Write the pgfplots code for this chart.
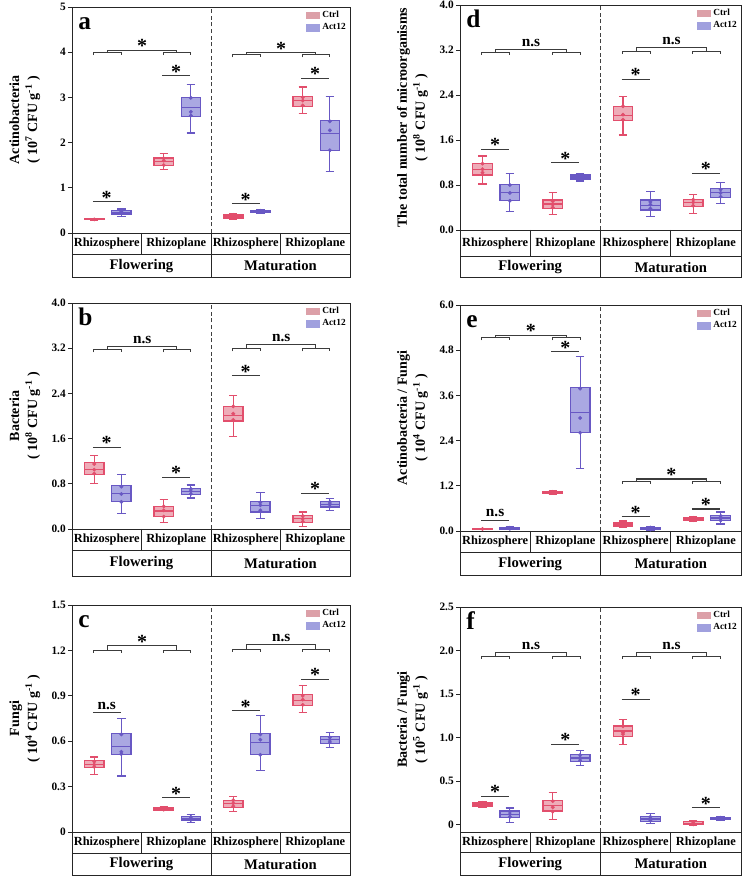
\documentclass[border=0pt]{standalone}
\usepackage{fontspec}
\setmainfont{Liberation Serif}
\usepackage{pgfplots}
\pgfplotsset{compat=1.18}
\usepgfplotslibrary{statistics}

\definecolor{CtrlE}{RGB}{226,78,108}
\definecolor{CtrlF}{RGB}{238,172,184}
\definecolor{ActE}{RGB}{104,88,196}
\definecolor{ActF}{RGB}{170,168,226}
\definecolor{CtrlL}{RGB}{220,160,168}
\definecolor{ActL}{RGB}{160,160,222}
\definecolor{brkc}{RGB}{60,60,60}

\tikzset{
  brk/.style={line width=0.8pt, brkc},
  tl/.style={line width=0.7pt, black!85},
  cat/.style={font=\bfseries\fontsize{9.3}{10}\selectfont, inner sep=0pt},
  stage/.style={font=\bfseries\fontsize{11}{12}\selectfont, inner sep=0pt},
  star/.style={anchor=south, inner sep=0pt, font=\bfseries\fontsize{15}{15}\selectfont, yshift=-2pt},
  ns/.style={anchor=base, inner sep=0pt, font=\bfseries\fontsize{11.5}{12}\selectfont, yshift=2.5pt},
}

\pgfplotsset{
  panel/.style={scale only axis, anchor=south west, xmin=0, xmax=4, xtick=\empty, clip=false,
    axis line style={line width=0.7pt, black!85},
    ytick pos=left, tick align=outside, major tick length=3pt,
    ytick style={line width=0.7pt, black!85},
    yticklabel style={font=\bfseries\fontsize{8.5}{10}\selectfont, inner sep=1.5pt},
    ylabel style={at={(axis description cs:-0.097,0.5)}, anchor=south, align=center,
      font=\bfseries\fontsize{10.5}{13.5}\selectfont},
    legend style={at={(0.995,0.995)}, anchor=north east, draw=none, fill=none,
      font=\bfseries\fontsize{7}{8}\selectfont, inner sep=0pt, row sep=-1pt},
    legend cell align=left,
  },
  ctrlbox/.style={draw=CtrlE, fill=CtrlF, line width=0.9pt, solid,
    boxplot/draw direction=y, boxplot/box extend=0.28, boxplot/whisker extend=0.12},
  actbox/.style={draw=ActE, fill=ActF, line width=0.9pt, solid,
    boxplot/draw direction=y, boxplot/box extend=0.28, boxplot/whisker extend=0.12},
}

\newcommand{\bxc}[6]{\addplot[ctrlbox, boxplot prepared={draw direction=y, draw position=#1, lower whisker=#2, lower quartile=#3, median=#4, upper quartile=#5, upper whisker=#6}] coordinates {};}
\newcommand{\bxa}[6]{\addplot[actbox, boxplot prepared={draw direction=y, draw position=#1, lower whisker=#2, lower quartile=#3, median=#4, upper quartile=#5, upper whisker=#6}] coordinates {};}
\newcommand{\ptc}[1]{\addplot[only marks, mark=*, mark size=1.25pt, CtrlE] coordinates {#1};}
\newcommand{\pta}[1]{\addplot[only marks, mark=*, mark size=1.25pt, ActE] coordinates {#1};}

\newcommand{\legendimgs}{%
  \addlegendimage{legend image code/.code={\fill[CtrlL] (0pt,-2.5pt) rectangle (10pt,2.5pt);}}
  \addlegendentry{Ctrl}
  \addlegendimage{legend image code/.code={\fill[ActL] (0pt,-2.5pt) rectangle (10pt,2.5pt);}}
  \addlegendentry{Act12}
}
\newcommand{\dashmid}{\draw[dashed, black!75, line width=0.7pt, dash pattern=on 3pt off 2pt] (rel axis cs:0.5,0) -- (rel axis cs:0.5,1);}
\newcommand{\letter}[1]{\node[anchor=base west, inner sep=0pt, font=\bfseries\fontsize{19}{19}\selectfont] at (rel axis cs:0.022,0.9) {#1};}

\newcommand{\tbl}[4]{%
  \draw[tl] (rel axis cs:0,0) -- (rel axis cs:0,#2) -- (rel axis cs:1,#2) -- (rel axis cs:1,0);
  \draw[tl] (rel axis cs:0,#1) -- (rel axis cs:1,#1);
  \draw[tl] (rel axis cs:0.25,0) -- (rel axis cs:0.25,#1);
  \draw[tl] (rel axis cs:0.75,0) -- (rel axis cs:0.75,#1);
  \draw[tl] (rel axis cs:0.5,0) -- (rel axis cs:0.5,#2);
  \node[cat] at (rel axis cs:0.125,#3) {Rhizosphere};
  \node[cat] at (rel axis cs:0.375,#3) {Rhizoplane};
  \node[cat] at (rel axis cs:0.625,#3) {Rhizosphere};
  \node[cat] at (rel axis cs:0.875,#3) {Rhizoplane};
  \node[stage] at (rel axis cs:0.25,#4) {Flowering};
  \node[stage] at (rel axis cs:0.75,#4) {Maturation};
}
% pair bar: x1, x2, xc, y, style, text
\newcommand{\pb}[6]{%
  \draw[brk] (axis cs:#1,#4) -- (axis cs:#2,#4);
  \node[#5] at (axis cs:#3,#4) {#6};
}
% top brackets: ys, yr, ydrop, style, text
\newcommand{\tbF}[5]{%
  \draw[brk] (axis cs:0.31,#3) -- (axis cs:0.31,#1) -- (axis cs:0.71,#1) -- (axis cs:0.71,#3);
  \draw[brk] (axis cs:1.31,#3) -- (axis cs:1.31,#1) -- (axis cs:1.71,#1) -- (axis cs:1.71,#3);
  \draw[brk] (axis cs:0.51,#1) -- (axis cs:0.51,#2) -- (axis cs:1.51,#2) -- (axis cs:1.51,#1);
  \node[#4] at (axis cs:1.01,#2) {#5};
}
\newcommand{\tbM}[5]{%
  \draw[brk] (axis cs:2.31,#3) -- (axis cs:2.31,#1) -- (axis cs:2.71,#1) -- (axis cs:2.71,#3);
  \draw[brk] (axis cs:3.31,#3) -- (axis cs:3.31,#1) -- (axis cs:3.71,#1) -- (axis cs:3.71,#3);
  \draw[brk] (axis cs:2.51,#1) -- (axis cs:2.51,#2) -- (axis cs:3.51,#2) -- (axis cs:3.51,#1);
  \node[#4] at (axis cs:3.01,#2) {#5};
}

\begin{document}
\begin{tikzpicture}
\path[use as bounding box] (0,0) rectangle (558pt,657.75pt);

% ---------------- a ----------------
\begin{axis}[panel, at={(54pt,483pt)}, width=208.5pt, height=169.5pt,
  ymin=0, ymax=5, ytick={0,1,2,3,4,5}, yticklabels={0,1,2,3,4,5},
  ylabel={Actinobacteria\\( 10\textsuperscript{7} CFU g\textsuperscript{-1} )}]
\legendimgs
\dashmid
\bxc{0.32}{0.285}{0.295}{0.305}{0.315}{0.32}
\bxa{0.71}{0.37}{0.42}{0.46}{0.50}{0.53}
\bxc{1.32}{1.40}{1.50}{1.58}{1.66}{1.76}
\bxa{1.71}{2.21}{2.58}{2.77}{3.00}{3.29}
\bxc{2.32}{0.31}{0.33}{0.37}{0.40}{0.42}
\bxa{2.71}{0.44}{0.46}{0.48}{0.50}{0.52}
\bxc{3.32}{2.65}{2.80}{2.94}{3.02}{3.23}
\bxa{3.71}{1.36}{1.83}{2.20}{2.49}{3.02}
\ptc{(0.32,0.30) (1.32,1.50) (1.32,1.60) (1.32,1.65) (2.32,0.34) (2.32,0.37) (2.32,0.40) (3.32,2.82) (3.32,2.93) (3.32,3.00)}
\pta{(0.71,0.44) (0.71,0.47) (0.71,0.49) (1.71,2.60) (1.71,2.68) (1.71,2.99) (2.71,0.47) (2.71,0.48) (2.71,0.49) (3.71,1.83) (3.71,2.27) (3.71,2.47)}
\pb{0.30}{0.70}{0.50}{0.69}{star}{*}
\pb{1.30}{1.70}{1.50}{3.48}{star}{*}
\pb{2.30}{2.70}{2.50}{0.65}{star}{*}
\pb{3.30}{3.70}{3.50}{3.42}{star}{*}
\tbF{3.99}{4.04}{3.935}{star}{*}
\tbM{3.94}{3.99}{3.885}{star}{*}
\letter{a}
\tbl{-0.093}{-0.195}{-0.0465}{-0.144}
\end{axis}

% ---------------- b ----------------
\begin{axis}[panel, at={(54pt,261pt)}, width=208.5pt, height=169.5pt,
  ymin=0, ymax=4, ytick={0,0.8,1.6,2.4,3.2,4.0}, yticklabels={0.0,0.8,1.6,2.4,3.2,4.0},
  ylabel={Bacteria\\( 10\textsuperscript{8} CFU g\textsuperscript{-1} )}]
\legendimgs
\dashmid
\bxc{0.32}{0.80}{0.96}{1.05}{1.17}{1.30}
\bxa{0.71}{0.27}{0.48}{0.63}{0.77}{0.97}
\bxc{1.32}{0.12}{0.22}{0.32}{0.40}{0.52}
\bxa{1.71}{0.55}{0.61}{0.67}{0.71}{0.78}
\bxc{2.32}{1.64}{1.91}{2.01}{2.17}{2.36}
\bxa{2.71}{0.18}{0.30}{0.41}{0.48}{0.64}
\bxc{3.32}{0.04}{0.12}{0.18}{0.24}{0.30}
\bxa{3.71}{0.33}{0.39}{0.44}{0.48}{0.54}
\ptc{(0.32,0.98) (0.32,1.05) (0.32,1.15) (1.32,0.22) (1.32,0.33) (1.32,0.40) (2.32,1.93) (2.32,2.04) (2.32,2.17) (3.32,0.13) (3.32,0.18) (3.32,0.23)}
\pta{(0.71,0.48) (0.71,0.62) (0.71,0.75) (1.71,0.62) (1.71,0.67) (1.71,0.71) (2.71,0.33) (2.71,0.42) (2.71,0.47) (3.71,0.40) (3.71,0.44) (3.71,0.48)}
\pb{0.30}{0.70}{0.50}{1.45}{star}{*}
\pb{1.30}{1.70}{1.50}{0.91}{star}{*}
\pb{2.30}{2.70}{2.50}{2.71}{star}{*}
\pb{3.30}{3.70}{3.50}{0.63}{star}{*}
\tbF{3.17}{3.23}{3.125}{ns}{n.s}
\tbM{3.19}{3.26}{3.145}{ns}{n.s}
\letter{b}
\tbl{-0.093}{-0.212}{-0.0465}{-0.1525}
\end{axis}

% ---------------- c ----------------
\begin{axis}[panel, at={(54pt,33.75pt)}, width=208.5pt, height=170.25pt,
  ymin=0, ymax=1.5, ytick={0,0.3,0.6,0.9,1.2,1.5}, yticklabels={0,0.3,0.6,0.9,1.2,1.5},
  ylabel={Fungi\\( 10\textsuperscript{4} CFU g\textsuperscript{-1} )}]
\legendimgs
\dashmid
\bxc{0.32}{0.38}{0.426}{0.448}{0.47}{0.496}
\bxa{0.71}{0.37}{0.51}{0.563}{0.65}{0.75}
\bxc{1.32}{0.14}{0.145}{0.152}{0.16}{0.17}
\bxa{1.71}{0.062}{0.075}{0.086}{0.10}{0.115}
\bxc{2.32}{0.137}{0.163}{0.188}{0.21}{0.236}
\bxa{2.71}{0.406}{0.51}{0.59}{0.65}{0.77}
\bxc{3.32}{0.788}{0.834}{0.871}{0.91}{0.966}
\bxa{3.71}{0.558}{0.585}{0.611}{0.633}{0.657}
\ptc{(0.32,0.43) (0.32,0.445) (0.32,0.465) (1.32,0.148) (1.32,0.155) (1.32,0.158) (2.32,0.17) (2.32,0.19) (2.32,0.21) (3.32,0.84) (3.32,0.875) (3.32,0.90)}
\pta{(0.71,0.515) (0.71,0.53) (0.71,0.645) (1.71,0.08) (1.71,0.09) (1.71,0.10) (2.71,0.51) (2.71,0.61) (2.71,0.645) (3.71,0.595) (3.71,0.61) (3.71,0.625)}
\pb{0.30}{0.70}{0.50}{0.79}{ns}{n.s}
\pb{1.30}{1.70}{1.50}{0.227}{star}{*}
\pb{2.30}{2.70}{2.50}{0.80}{star}{*}
\pb{3.30}{3.70}{3.50}{1.008}{star}{*}
\tbF{1.20}{1.23}{1.183}{star}{*}
\tbM{1.207}{1.238}{1.19}{ns}{n.s}
\letter{c}
\tbl{-0.093}{-0.19}{-0.0465}{-0.1415}
\end{axis}

% ---------------- d ----------------
\begin{axis}[panel, at={(345pt,485.25pt)}, width=210.75pt, height=168.75pt,
  ymin=0, ymax=4, ytick={0,0.8,1.6,2.4,3.2,4.0}, yticklabels={0.0,0.8,1.6,2.4,3.2,4.0},
  ylabel={The total number of microorganisms\\( 10\textsuperscript{8} CFU g\textsuperscript{-1} )}]
\legendimgs
\dashmid
\bxc{0.32}{0.818}{0.978}{1.079}{1.185}{1.316}
\bxa{0.71}{0.33}{0.52}{0.67}{0.81}{1.01}
\bxc{1.32}{0.279}{0.385}{0.462}{0.533}{0.664}
\bxa{1.71}{0.871}{0.907}{0.942}{0.978}{1.007}
\bxc{2.32}{1.69}{1.94}{2.03}{2.19}{2.37}
\bxa{2.71}{0.237}{0.356}{0.433}{0.533}{0.68}
\bxc{3.32}{0.296}{0.415}{0.486}{0.545}{0.634}
\bxa{3.71}{0.474}{0.58}{0.664}{0.74}{0.847}
\ptc{(0.32,1.02) (0.32,1.08) (0.32,1.18) (1.32,0.40) (1.32,0.45) (1.32,0.51) (2.32,1.96) (2.32,2.05) (2.32,2.20) (3.32,0.43) (3.32,0.49) (3.32,0.54)}
\pta{(0.71,0.52) (0.71,0.66) (0.71,0.80) (1.71,0.92) (1.71,0.94) (1.71,0.97) (2.71,0.38) (2.71,0.45) (2.71,0.50) (3.71,0.59) (3.71,0.66) (3.71,0.72)}
\pb{0.30}{0.70}{0.50}{1.434}{star}{*}
\pb{1.30}{1.70}{1.50}{1.197}{star}{*}
\pb{2.30}{2.70}{2.50}{2.68}{star}{*}
\pb{3.30}{3.70}{3.50}{1.007}{star}{*}
\tbF{3.16}{3.21}{3.115}{ns}{n.s}
\tbM{3.17}{3.24}{3.125}{ns}{n.s}
\letter{d}
\tbl{-0.116}{-0.213}{-0.058}{-0.1645}
\end{axis}

% ---------------- e ----------------
\begin{axis}[panel, at={(345pt,259.5pt)}, width=210.75pt, height=169.5pt,
  ymin=0, ymax=6, ytick={0,1.2,2.4,3.6,4.8,6.0}, yticklabels={0.0,1.2,2.4,3.6,4.8,6.0},
  ylabel={Actinobacteria / Fungi\\( 10\textsuperscript{4} CFU g\textsuperscript{-1} )}]
\legendimgs
\dashmid
\bxc{0.32}{0.035}{0.045}{0.053}{0.062}{0.07}
\bxa{0.71}{0.03}{0.045}{0.07}{0.09}{0.11}
\bxc{1.32}{0.97}{0.99}{1.03}{1.05}{1.07}
\bxa{1.71}{1.65}{2.61}{3.14}{3.80}{4.63}
\bxc{2.32}{0.10}{0.133}{0.186}{0.23}{0.265}
\bxa{2.71}{0.018}{0.035}{0.062}{0.097}{0.115}
\bxc{3.32}{0.257}{0.274}{0.319}{0.363}{0.38}
\bxa{3.71}{0.186}{0.274}{0.345}{0.416}{0.504}
\ptc{(0.32,0.053) (1.32,1.01) (1.32,1.03) (1.32,1.04) (2.32,0.14) (2.32,0.19) (2.32,0.22) (3.32,0.29) (3.32,0.32) (3.32,0.35)}
\pta{(0.71,0.06) (0.71,0.07) (0.71,0.085) (1.71,2.61) (1.71,3.00) (1.71,3.78) (2.71,0.04) (2.71,0.065) (2.71,0.09) (3.71,0.28) (3.71,0.33) (3.71,0.40)}
\pb{0.30}{0.70}{0.50}{0.29}{ns}{n.s}
\pb{1.30}{1.70}{1.50}{4.76}{star}{*}
\pb{2.30}{2.70}{2.50}{0.38}{star}{*}
\pb{3.30}{3.70}{3.50}{0.584}{star}{*}
\tbF{5.13}{5.20}{5.064}{star}{*}
\tbM{1.31}{1.38}{1.244}{star}{*}
\letter{e}
\tbl{-0.093}{-0.195}{-0.0465}{-0.144}
\end{axis}

% ---------------- f ----------------
\begin{axis}[panel, at={(345pt,33.75pt)}, width=210.75pt, height=168.75pt,
  ymin=-0.084, ymax=2.5, ytick={0,0.5,1.0,1.5,2.0,2.5}, yticklabels={0,0.5,1.0,1.5,2.0,2.5},
  ylabel={Bacteria / Fungi\\( 10\textsuperscript{5} CFU g\textsuperscript{-1} )}]
\legendimgs
\dashmid
\bxc{0.32}{0.203}{0.214}{0.237}{0.256}{0.268}
\bxa{0.71}{0.027}{0.08}{0.119}{0.157}{0.191}
\bxc{1.32}{0.061}{0.157}{0.218}{0.28}{0.368}
\bxa{1.71}{0.678}{0.727}{0.766}{0.808}{0.854}
\bxc{2.32}{0.923}{1.015}{1.076}{1.133}{1.21}
\bxa{2.71}{0.011}{0.038}{0.065}{0.092}{0.126}
\bxc{3.32}{-0.011}{0.0}{0.015}{0.034}{0.05}
\bxa{3.71}{0.054}{0.061}{0.073}{0.08}{0.088}
\ptc{(0.32,0.225) (0.32,0.24) (0.32,0.25) (1.32,0.15) (1.32,0.20) (1.32,0.27) (2.32,1.04) (2.32,1.06) (2.32,1.13) (3.32,0.005) (3.32,0.015) (3.32,0.03)}
\pta{(0.71,0.09) (0.71,0.12) (0.71,0.15) (1.71,0.74) (1.71,0.77) (1.71,0.80) (2.71,0.045) (2.71,0.07) (2.71,0.09) (3.71,0.065) (3.71,0.073) (3.71,0.08)}
\pb{0.30}{0.70}{0.50}{0.325}{star}{*}
\pb{1.30}{1.70}{1.50}{0.923}{star}{*}
\pb{2.30}{2.70}{2.50}{1.44}{star}{*}
\pb{3.30}{3.70}{3.50}{0.195}{star}{*}
\tbF{1.933}{1.975}{1.904}{ns}{n.s}
\tbM{1.93}{1.975}{1.901}{ns}{n.s}
\letter{f}
\tbl{-0.093}{-0.191}{-0.0465}{-0.142}
\end{axis}
\end{tikzpicture}
\end{document}
